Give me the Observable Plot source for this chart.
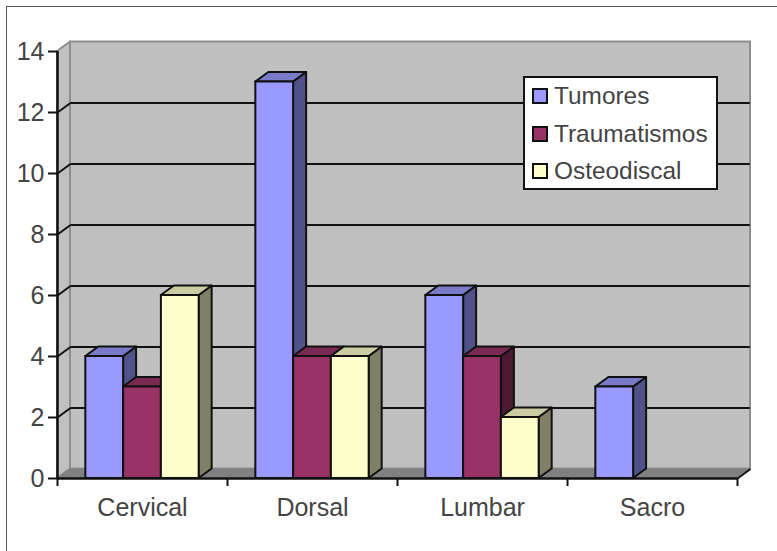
<!DOCTYPE html>
<html>
<head>
<meta charset="utf-8">
<script src="https://cdn.jsdelivr.net/npm/d3@7"></script>
<script src="https://cdn.jsdelivr.net/npm/@observablehq/plot@0.6"></script>
<style>
html,body{margin:0;padding:0;background:#fff;overflow:hidden}
#wrap{position:relative;width:777px;height:551px;font-family:"Liberation Sans",sans-serif;color:#444}
#wrap svg{position:absolute;left:0;top:0;background:transparent}
#edge{position:absolute;left:6px;top:6px;right:0;bottom:0;border-left:1.5px solid #555;border-top:1.5px solid #555}
#legend{position:absolute;left:523px;top:76px;width:191px;height:110px;background:#fff;border:2px solid #111}
.row{position:absolute;left:7px;height:24px;display:flex;align-items:center;font-size:24.4px;white-space:nowrap}
.sw{display:inline-block;width:12px;height:12px;border:2px solid #111;margin-right:6px}
</style>
</head>
<body>
<div id="wrap"><div id="edge"></div></div>
<script>
const categories = ["Cervical", "Dorsal", "Lumbar", "Sacro"];
const seriesNames = ["Tumores", "Traumatismos", "Osteodiscal"];
const tumores = [4, 13, 6, 3];
const traumatismos = [3, 4, 4, null];
const osteodiscal = [6, 4, 2, null];
const yTicks = [0, 2, 4, 6, 8, 10, 12, 14];
const frontColors = ["#9999FF", "#993366", "#FFFFCC"];
const sideColors = ["#50528A", "#4C1933", "#808066"];
const topColors = ["#7A7AC8", "#7A2952", "#CCCCA3"];

const seriesValues = [tumores, traumatismos, osteodiscal];
const depthX = 0.0765, depthY = 0.31;       // 3D depth in data units
const barW = 1 / 4.5, groupStart = 0.75 * barW;
const n = categories.length, yMax = 14;
const sw = 2;

const marks = [];
// walls and floor
marks.push(Plot.rect([{}], {x1: depthX, x2: n + depthX, y1: depthY, y2: yMax + depthY, fill: "#C0C0C0", stroke: "#8E8E8E", strokeWidth: sw}));
marks.push(Plot.area([{x: 0, a: 0, b: yMax}, {x: depthX, a: depthY, b: yMax + depthY}], {x1: "x", x2: "x", y1: "a", y2: "b", fill: "#C0C0C0", stroke: "#8E8E8E", strokeWidth: sw}));
marks.push(Plot.area([{y: 0, a: 0, b: n}, {y: depthY, a: depthX, b: n + depthX}], {y1: "y", y2: "y", x1: "a", x2: "b", fill: "#808080"}));
// gridlines
const grid = yTicks.filter(v => v > 0 && v < yMax);
marks.push(Plot.link(grid, {x1: depthX, x2: n + depthX - 0.004, y1: v => v + depthY, y2: v => v + depthY, stroke: "#111", strokeWidth: sw}));
marks.push(Plot.link(grid, {x1: 0, x2: depthX, y1: v => v, y2: v => v + depthY, stroke: "#111", strokeWidth: sw}));
// bars: painter's order, left to right
categories.forEach((c, i) => {
  seriesValues.forEach((vals, s) => {
    const v = vals[i];
    if (v == null) return;
    const x0 = i + groupStart + s * barW, x1 = x0 + barW;
    marks.push(Plot.area([{x: x1, a: 0, b: v}, {x: x1 + depthX, a: depthY, b: v + depthY}], {x1: "x", x2: "x", y1: "a", y2: "b", fill: sideColors[s], stroke: "#111", strokeWidth: sw, strokeLinejoin: "round"}));
    marks.push(Plot.area([{y: v, a: x0, b: x1}, {y: v + depthY, a: x0 + depthX, b: x1 + depthX}], {y1: "y", y2: "y", x1: "a", x2: "b", fill: topColors[s], stroke: "#111", strokeWidth: sw, strokeLinejoin: "round"}));
    marks.push(Plot.rect([{}], {x1: x0, x2: x1, y1: 0, y2: v, fill: frontColors[s], stroke: "#111", strokeWidth: sw}));
  });
});
// axes
marks.push(Plot.link([n], {x1: d => d, x2: d => d + depthX, y1: 0, y2: depthY, stroke: "#111", strokeWidth: sw}));
marks.push(Plot.ruleX([0], {y1: 0, y2: yMax, stroke: "#111", strokeWidth: 2.5}));
marks.push(Plot.ruleY([0], {x1: 0, x2: n, stroke: "#111", strokeWidth: 2.5}));
marks.push(Plot.axisY({ticks: yTicks, tickSize: 9, tickPadding: 4, fontSize: 25, stroke: "#111", strokeWidth: sw, fill: "#444"}));
marks.push(Plot.axisX({ticks: d3.range(n + 1), tickSize: 8, tickFormat: () => "", stroke: "#111", strokeWidth: sw}));
marks.push(Plot.axisX({ticks: d3.range(n).map(i => i + 0.5), tickSize: 0, tickPadding: 19.5, tickFormat: d => categories[d - 0.5], fontSize: 25, fill: "#444", stroke: "none"}));

const chart = Plot.plot({
  width: 777, height: 551,
  marginLeft: 57, marginRight: 40, marginTop: 51, marginBottom: 73,
  x: {type: "linear", domain: [0, n], axis: null},
  y: {domain: [0, yMax], axis: null},
  style: {fontFamily: "Liberation Sans, sans-serif", background: "transparent", overflow: "visible"},
  marks
});
const wrap = document.getElementById("wrap");
wrap.appendChild(chart);

// legend
const lg = document.createElement("div");
lg.id = "legend";
seriesNames.forEach((name, s) => {
  const r = document.createElement("div");
  r.className = "row";
  r.style.top = (6 + s * 37.5) + "px";
  const b = document.createElement("span");
  b.className = "sw";
  b.style.background = frontColors[s];
  r.appendChild(b);
  r.appendChild(document.createTextNode(name));
  lg.appendChild(r);
});
wrap.appendChild(lg);
</script>
</body>
</html>
